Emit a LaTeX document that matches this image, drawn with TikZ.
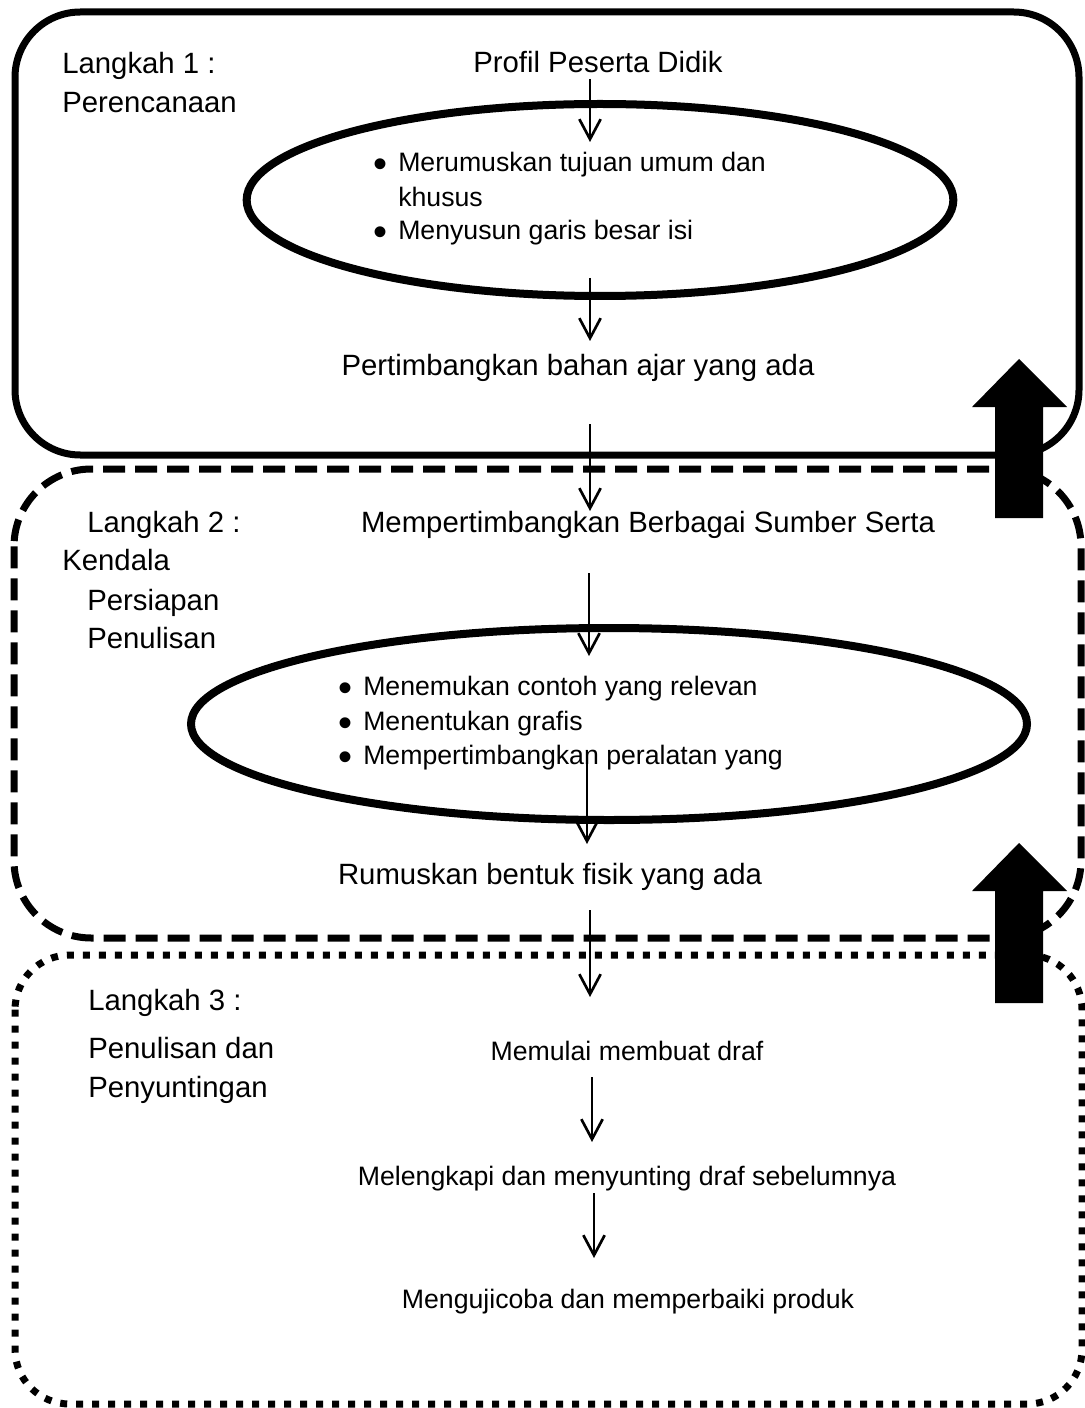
\documentclass[tikz,border=0pt]{standalone}
\usepackage{fontspec}
\setmainfont{Liberation Sans}
\usetikzlibrary{arrows.meta,shapes.geometric}
\newcommand{\bl}{\makebox[18.75pt][l]{\smash{\raisebox{-4.5pt}{\fontsize{30}{30}\selectfont •}}}}
\begin{document}
\begin{tikzpicture}[x=0.75pt,y=-0.75pt,
  big/.style={inner sep=0pt, font=\fontsize{22}{26}\selectfont},
  small/.style={inner sep=0pt, font=\fontsize{20}{24}\selectfont},
  solidbox/.style={line width=5.25pt, rounded corners=49pt},
  dashbox/.style={line width=5.25pt, rounded corners=58pt, dash pattern=on 16.5pt off 7.5pt},
  dotbox/.style={line width=5.25pt, rounded corners=41pt, dash pattern=on 5.25pt off 6.75pt},
  oval/.style={draw, ellipse, line width=6pt, inner sep=0pt},
  flow/.style={line width=2pt, -{Straight Barb[length=15pt,width=16pt]}},
  blockarrow/.style={fill=black}
]
\useasboundingbox (0,0) rectangle (1084,1408);

% step boxes
\draw[solidbox] (15,12) rectangle (1079,455);
\draw[dashbox] (14,469) rectangle (1081,938);
\draw[dotbox] (15,955) rectangle (1082,1404);

% ellipses
\node[oval, minimum width=530pt, minimum height=144pt] (e1) at (600,200) {};
\node[oval, minimum width=627pt, minimum height=144pt] (e2) at (609,724) {};

% left labels
\node[big, anchor=base west] (l1a) at (62,74) {Langkah 1 :};
\node[big, anchor=base west] (l1b) at (62,113) {Perencanaan};
\node[big, anchor=base west] (l2a) at (87,532) {Langkah 2 :};
\node[big, anchor=base west] (l2b) at (62,570) {Kendala};
\node[big, anchor=base west] (l2c) at (87,610) {Persiapan};
\node[big, anchor=base west] (l2d) at (87,648) {Penulisan};
\node[big, anchor=base west] (l3a) at (88,1010) {Langkah 3 :};
\node[big, anchor=base west] (l3b) at (88,1058) {Penulisan dan};
\node[big, anchor=base west] (l3c) at (88,1097) {Penyuntingan};

% main flow texts
\node[big, anchor=base] (profil) at (598,73) {Profil Peserta Didik};
\node[big, anchor=base] (pertimbangkan) at (578,375) {Pertimbangkan bahan ajar yang ada};
\node[big, anchor=base] (sumber) at (648,532) {Mempertimbangkan Berbagai Sumber Serta};
\node[big, anchor=base] (rumuskan) at (550,884) {Rumuskan bentuk fisik yang ada};

% bullets in ellipse 1
\node[small, anchor=base west] (b1) at (373,172) {\bl Merumuskan tujuan umum dan};
\node[small, anchor=base west] (b1b) at (398,207) {khusus};
\node[small, anchor=base west] (b2) at (373,240) {\bl Menyusun garis besar isi};

% bullets in ellipse 2
\node[small, anchor=base west] (c1) at (338,695) {\bl Menemukan contoh yang relevan};
\node[small, anchor=base west] (c2) at (338,730) {\bl Menentukan grafis};
\node[small, anchor=base west] (c3) at (338,764) {\bl Mempertimbangkan peralatan yang};

% step 3 texts
\node[small, anchor=base] (draf) at (627,1060) {Memulai membuat draf};
\node[small, anchor=base] (lengkap) at (627,1185) {Melengkapi dan menyunting draf sebelumnya};
\node[small, anchor=base] (uji) at (628,1308) {Mengujicoba dan memperbaiki produk};

% arrow ends
\coordinate (a1s) at (590,79);   \coordinate (a1e) at (590,142);
\coordinate (a2s) at (590,278);  \coordinate (a2e) at (590,341);
\coordinate (a3s) at (590,424);  \coordinate (a3e) at (590,511);
\coordinate (a4s) at (589,573);  \coordinate (a4e) at (589,656);
\coordinate (a5s) at (587,758);  \coordinate (a5e) at (587,844);
\coordinate (a6s) at (590,910);  \coordinate (a6e) at (590,997);
\coordinate (a7s) at (592,1077); \coordinate (a7e) at (592,1142);
\coordinate (a8s) at (594,1193); \coordinate (a8e) at (594,1258);

\draw[flow] (a1s) -- (a1e);
\draw[flow] (a2s) -- (a2e);
\draw[flow] (a3s) -- (a3e);
\draw[flow] (a4s) -- (a4e);
\draw[flow] (a5s) -- (a5e);
\draw[flow] (a6s) -- (a6e);
\draw[flow] (a7s) -- (a7e);
\draw[flow] (a8s) -- (a8e);

% block arrows (upward)
\fill[blockarrow] (1019,359) -- (1067,407) -- (1043,407) -- (1043,518) -- (995,518) -- (995,407) -- (972,407) -- cycle;
\fill[blockarrow] (1019,843) -- (1067,891) -- (1043,891) -- (1043,1003) -- (995,1003) -- (995,891) -- (972,891) -- cycle;
\end{tikzpicture}
\end{document}
